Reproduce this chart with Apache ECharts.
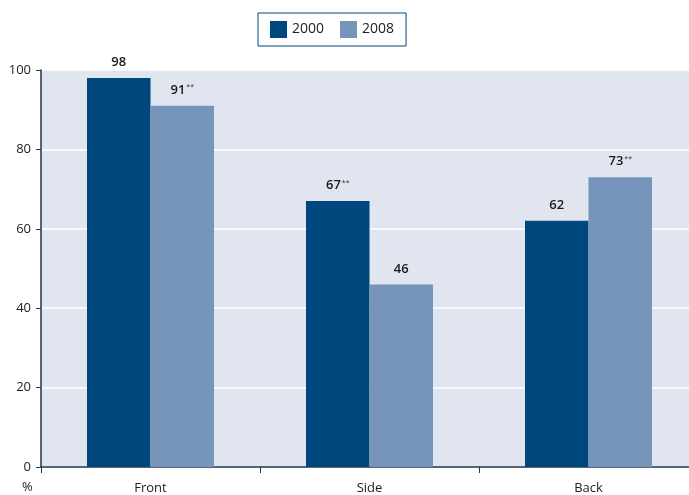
<!DOCTYPE html>
<html>
<head>
<meta charset="utf-8">
<script src="https://cdn.jsdelivr.net/npm/echarts@6/dist/echarts.min.js"></script>
<style>
  html, body { margin: 0; padding: 0; background: #fff; overflow: hidden; }
  /* the plot panel runs past the right edge of the window */
  #chart { width: 698px; height: 495px; }
</style>
</head>
<body>
<div id="chart"></div>
<script>
// Seat position shares (%) by year
const categories = ['Front', 'Side', 'Back'];
const values2000 = [98, 67, 62];
const values2008 = [91, 46, 73];
// Values flagged as significant changes (shown with **)
const flags2000 = [false, true, false];
const flags2008 = [true, false, true];
const yTicks = [0, 20, 40, 60, 80, 100];

const DARK = '#00477d';
const LIGHT = '#7794bb';
const FONT = '"Open Sans", "Noto Sans", sans-serif';

function labelFmt(flags) {
  return function (p) {
    return flags[p.dataIndex] ? '{v|' + p.value + '}{s|**}' : '{v|' + p.value + '}';
  };
}
const labelRich = {
  v: { fontSize: 13, fontWeight: 600, color: '#1a1a1a', fontFamily: FONT },
  s: { fontSize: 7, fontWeight: 400, color: '#333', fontFamily: FONT, verticalAlign: 'top', padding: [0, 0, 6, 1] }
};

const chart = echarts.init(document.getElementById('chart'), null, { renderer: 'canvas' });
chart.setOption({
  animation: false,
  textStyle: { fontFamily: FONT },
  legend: {
    top: 13,
    left: 258,
    width: 146,
    padding: [8, 12, 8, 12],
    borderColor: '#00477d',
    borderWidth: 1,
    itemWidth: 17,
    itemHeight: 17,
    itemGap: 16,
    icon: 'rect',
    textStyle: { fontSize: 14, color: '#222', fontFamily: FONT },
    data: ['2000', '2008']
  },
  grid: {
    left: 41,
    right: 0,
    top: 70,
    bottom: 28,
    show: true,
    backgroundColor: '#e1e5ef',
    borderWidth: 0
  },
  xAxis: {
    type: 'category',
    data: categories,
    axisLine: { lineStyle: { color: '#1e3550', width: 1.5 } },
    axisTick: { show: true, length: 6, lineStyle: { color: '#1e3550' } },
    axisLabel: { margin: 15, fontSize: 13, color: '#222', fontFamily: FONT }
  },
  yAxis: {
    type: 'value',
    min: 0,
    max: 100,
    interval: 20,
    axisLine: { show: true, lineStyle: { color: '#1e3550', width: 1.5 } },
    axisTick: { show: true, length: 5, lineStyle: { color: '#1e3550' } },
    axisLabel: {
      margin: 10, fontSize: 13, color: '#222', fontFamily: FONT,
      formatter: function (v) { return yTicks.indexOf(v) >= 0 ? String(v) : ''; }
    },
    splitLine: { show: true, lineStyle: { color: '#ffffff', width: 1.5 } }
  },
  graphic: [{
    type: 'text',
    left: 22,
    top: 481,
    style: { text: '%', fontSize: 13, fill: '#222', fontFamily: FONT }
  }],
  series: [
    {
      name: '2000',
      type: 'bar',
      data: values2000,
      barWidth: 63.5,
      barGap: '0%',
      itemStyle: { color: DARK },
      label: { show: true, position: 'top', distance: 9, formatter: labelFmt(flags2000), rich: labelRich }
    },
    {
      name: '2008',
      type: 'bar',
      data: values2008,
      barWidth: 63.5,
      barGap: '0%',
      itemStyle: { color: LIGHT },
      label: { show: true, position: 'top', distance: 9, formatter: labelFmt(flags2008), rich: labelRich }
    }
  ]
});
</script>
</body>
</html>
